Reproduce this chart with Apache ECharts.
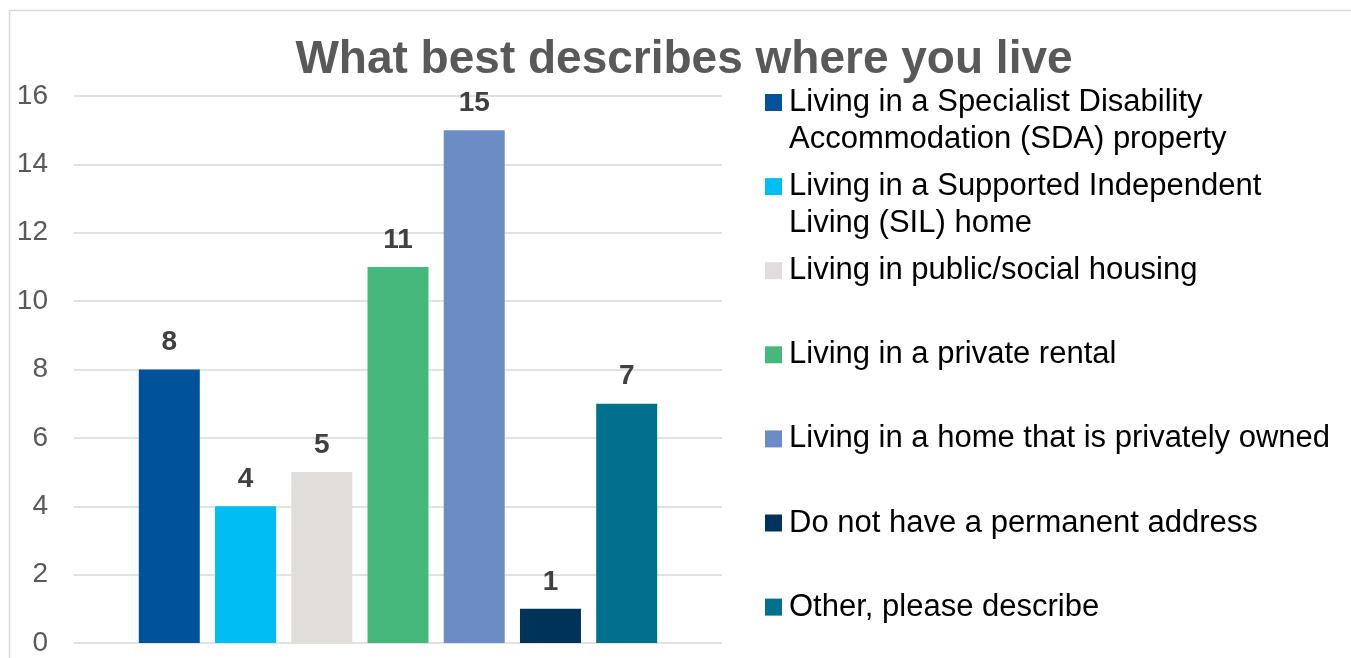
<!DOCTYPE html>
<html>
<head>
<meta charset="utf-8">
<script src="https://cdn.jsdelivr.net/npm/echarts@6/dist/echarts.min.js"></script>
<style>
  html, body { margin: 0; padding: 0; background: #fff; }
  #chart { width: 1351px; height: 658px; }
</style>
</head>
<body>
<div id="chart"></div>
<script>
// data
const categories = [''];
const seriesNames = [
  'Living in a Specialist Disability\nAccommodation (SDA) property',
  'Living in a Supported Independent\nLiving (SIL) home',
  'Living in public/social housing',
  'Living in a private rental',
  'Living in a home that is privately owned',
  'Do not have a permanent address',
  'Other, please describe'
];
const seriesValues = [8, 4, 5, 11, 15, 1, 7];
const colors = ['#00529A', '#00BEF2', '#E1DDDA', '#45B97C', '#6C8CC6', '#003359', '#00708F'];

const font = "'Liberation Sans', Arial, sans-serif";

// one legend per entry so entries sit at even steps like the original
const legendStep = 84.1;
const legendFirst = 102.5;
const legends = seriesNames.map(function (name, i) {
  const twoLine = name.indexOf('\n') >= 0;
  const centre = legendFirst + legendStep * i;
  return {
    data: [name],
    orient: 'vertical',
    left: 765,
    top: twoLine ? centre - 55.5 : centre - 18.5,
    padding: 0,
    itemWidth: 17,
    itemHeight: 17,
    itemGap: 0,
    icon: 'rect',
    selectedMode: false,
    // leading blank line keeps the marker level with the first line
    formatter: function (n) { return n.indexOf('\n') >= 0 ? '\n' + n : n; },
    textStyle: { fontFamily: font, fontSize: 31, color: '#000', lineHeight: 37, padding: [0, 0, 0, 2] }
  };
});

const chart = echarts.init(document.getElementById('chart'));
chart.setOption({
  animation: false,
  textStyle: { fontFamily: font },
  title: {
    text: 'What best describes where you live',
    left: 684,
    top: 37,
    padding: 0,
    textAlign: 'center',
    textStyle: { fontFamily: font, fontSize: 46, fontWeight: 'bold', color: '#595959' }
  },
  graphic: [{
    type: 'rect',
    shape: { x: 9.5, y: 10.5, width: 1400, height: 700 },
    style: { fill: 'none', stroke: '#D9D9D9', lineWidth: 1.5 },
    silent: true,
    z: -1
  }],
  legend: legends,
  grid: { left: 74, right: 629, top: 96, bottom: 15 },
  xAxis: {
    type: 'category',
    data: categories,
    axisLine: { show: false },
    axisTick: { show: false },
    axisLabel: { show: false }
  },
  yAxis: {
    type: 'value',
    min: 0,
    max: 16,
    interval: 2,
    axisLine: { show: false },
    axisTick: { show: false },
    axisLabel: { fontFamily: font, fontSize: 28, color: '#595959', margin: 26 },
    splitLine: { lineStyle: { color: '#D9D9D9', width: 1.5 } }
  },
  series: seriesNames.map(function (name, i) {
    return {
      name: name,
      type: 'bar',
      data: [seriesValues[i]],
      barGap: '25%',
      barCategoryGap: '20%',
      itemStyle: { color: colors[i] },
      label: {
        show: true,
        position: 'top',
        distance: 13,
        fontFamily: font,
        fontSize: 28,
        fontWeight: 'bold',
        color: '#404040'
      }
    };
  })
});
</script>
</body>
</html>
